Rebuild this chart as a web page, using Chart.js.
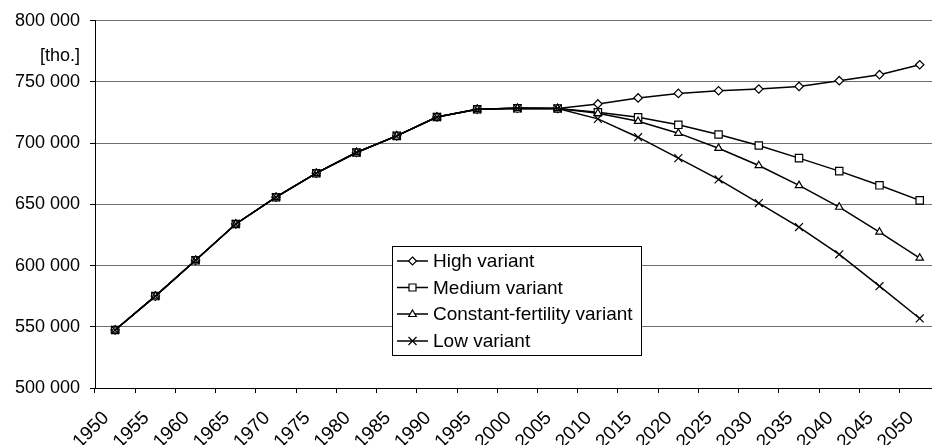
<!DOCTYPE html>
<html>
<head>
<meta charset="utf-8">
<script src="https://cdn.jsdelivr.net/npm/chart.js@4.4.1/dist/chart.umd.min.js"></script>
<style>
  html, body { margin: 0; padding: 0; background: #fff; overflow: hidden; }
  #wrap { width: 932px; height: 445px; overflow: hidden; }
</style>
</head>
<body>
<div id="wrap"><canvas id="chart" width="950" height="445"></canvas></div>
<script>
// Population, thousands (1950-2005 estimates, 2010-2050 variants)
var years = ['1950', '1955', '1960', '1965', '1970', '1975', '1980', '1985', '1990', '1995', '2000',
             '2005', '2010', '2015', '2020', '2025', '2030', '2035', '2040', '2045', '2050'];
var estimates = [547400, 575100, 604400, 634000, 655900, 675500, 692400, 706000, 721400, 727700, 728500, 728400];
var highVariant     = [732100, 737000, 740700, 742900, 744300, 746400, 751100, 756000, 764100];
var mediumVariant   = [725300, 721200, 715000, 707100, 698100, 687800, 677200, 665600, 653300];
var constantVariant = [724400, 717900, 708200, 695900, 681800, 665500, 647800, 627400, 606200];
var lowVariant      = [719900, 704900, 687800, 670400, 651100, 631500, 609200, 583200, 556800];

var FONT = "'Liberation Sans', Arial, sans-serif";

function serie(label, values, style, radius, order) {
  return {
    label: label,
    data: estimates.concat(values),
    borderColor: '#000',
    backgroundColor: '#fff',
    borderWidth: 1.5,
    pointStyle: style,
    pointRadius: radius,
    pointBackgroundColor: '#fff',
    pointBorderColor: '#000',
    pointBorderWidth: 1.2,
    tension: 0,
    order: order
  };
}

// desenha o marcador da legenda
function marker(ctx, style, x, y) {
  ctx.beginPath();
  if (style === 'rectRot') {
    ctx.moveTo(x, y - 4); ctx.lineTo(x + 4, y); ctx.lineTo(x, y + 4); ctx.lineTo(x - 4, y); ctx.closePath();
    ctx.fill(); ctx.stroke();
  } else if (style === 'rect') {
    ctx.rect(x - 3.5, y - 3.5, 7, 7);
    ctx.fill(); ctx.stroke();
  } else if (style === 'triangle') {
    ctx.moveTo(x, y - 4); ctx.lineTo(x + 3.8, y + 2.5); ctx.lineTo(x - 3.8, y + 2.5); ctx.closePath();
    ctx.fill(); ctx.stroke();
  } else {
    ctx.moveTo(x - 4, y - 4); ctx.lineTo(x + 4, y + 4);
    ctx.moveTo(x + 4, y - 4); ctx.lineTo(x - 4, y + 4);
    ctx.stroke();
  }
}

var legendBox = {
  id: 'legendBox',
  afterDraw: function (chart) {
    var ctx = chart.ctx;
    ctx.save();
    // unidade
    ctx.font = '18px ' + FONT;
    ctx.fillStyle = '#000';
    ctx.textAlign = 'right';
    ctx.textBaseline = 'middle';
    ctx.fillText('[tho.]', 80, 56);

    // caixa da legenda
    ctx.fillStyle = '#fff';
    ctx.fillRect(392, 246, 249, 109);
    ctx.strokeStyle = '#000';
    ctx.lineWidth = 1;
    ctx.strokeRect(392.5, 246.5, 249, 109);

    ctx.font = '19px ' + FONT;
    var rows = [261, 287.5, 314, 341];
    chart.data.datasets.forEach(function (ds, i) {
      var y = rows[i];
      ctx.strokeStyle = '#000';
      ctx.lineWidth = 1.5;
      ctx.beginPath();
      ctx.moveTo(397, y); ctx.lineTo(428, y);
      ctx.stroke();
      ctx.lineWidth = 1.2;
      ctx.fillStyle = '#fff';
      marker(ctx, ds.pointStyle, 412.5, y);
      ctx.fillStyle = '#000';
      ctx.textAlign = 'left';
      ctx.fillText(ds.label, 433, y + 1);
    });
    ctx.restore();
  }
};

new Chart(document.getElementById('chart'), {
  type: 'line',
  data: {
    labels: years,
    datasets: [
      serie('High variant', highVariant, 'rectRot', 4.2, 4),
      serie('Medium variant', mediumVariant, 'rect', 5.2, 3),
      serie('Constant-fertility variant', constantVariant, 'triangle', 4.3, 2),
      serie('Low variant', lowVariant, 'crossRot', 5.6, 1)
    ]
  },
  options: {
    responsive: false,
    animation: false,
    devicePixelRatio: 1,
    layout: { padding: { top: 20, right: 7, left: 0, bottom: 0 } },
    plugins: {
      legend: { display: false },
      tooltip: { enabled: false }
    },
    scales: {
      x: {
        type: 'category',
        offset: true,
        grid: { display: true, offset: true, drawOnChartArea: false, drawTicks: true, tickLength: 5, tickColor: '#000' },
        border: { color: '#000', width: 1 },
        ticks: {
          color: '#000',
          font: { family: FONT, size: 19 },
          minRotation: 45,
          maxRotation: 45,
          autoSkip: false,
          padding: 14,
          labelOffset: -9
        },
        afterFit: function (scale) { scale.height = 57; }
      },
      y: {
        min: 500000,
        max: 800000,
        grid: { color: '#6e6e6e', lineWidth: 1, tickLength: 5, tickColor: '#000' },
        border: { color: '#000', width: 1 },
        ticks: {
          stepSize: 50000,
          color: '#000',
          padding: 10,
          font: { family: FONT, size: 18 },
          callback: function (v) {
            return String(v).replace(/\B(?=(\d{3})+(?!\d))/g, ' ');
          }
        },
        afterFit: function (scale) { scale.width = 95; }
      }
    }
  },
  plugins: [legendBox]
});
</script>
</body>
</html>
